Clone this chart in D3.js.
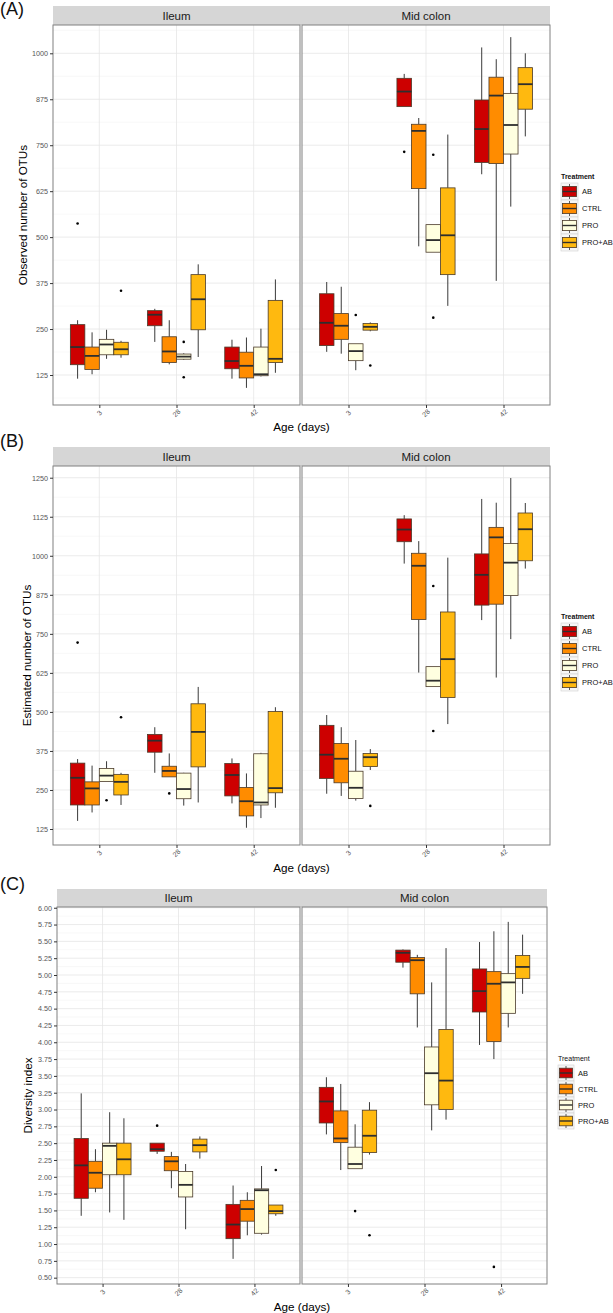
<!DOCTYPE html>
<html><head><meta charset="utf-8">
<script src="https://cdn.jsdelivr.net/npm/d3@7"></script>
<style>
body{margin:0;background:#fff}
svg{display:block}
text{font-family:"Liberation Sans",Arial,Helvetica,sans-serif}
</style>
</head><body>
<svg id="chart" width="613" height="1313"></svg>
<script>
const treatments = ["AB","CTRL","PRO","PRO+AB"];
const fills = ["#CD0000","#FF8C00","#FFFFE0","#FFB90F"];
const ages = ["3","28","42"];
const sites = ["Ileum","Mid colon"];
const obsTicks = [125,250,375,500,625,750,875,1000];
const estTicks = [125,250,375,500,625,750,875,1000,1125,1250];
const divTicks = [0.5,0.75,1.0,1.25,1.5,1.75,2.0,2.25,2.5,2.75,3.0,3.25,3.5,3.75,4.0,4.25,4.5,4.75,5.0,5.25,5.5,5.75,6.0];

// [age, treatment, lowerWhisker, q1, median, q3, upperWhisker, outliers]
const obsIleum = [
  ["3","AB",115,153,201,262,274,[537]],
  ["3","CTRL",127,140,177,201,241,[]],
  ["3","PRO",169,180,208,222,248,[]],
  ["3","PRO+AB",172,180,195,214,218,[354]],
  ["28","AB",215,259,289,300,305,[]],
  ["28","CTRL",154,159,189,229,274,[]],
  ["28","PRO",166,168,175,182,184,[215,119]],
  ["28","PRO+AB",174,248,331,398,426,[]],
  ["42","AB",115,142,163,201,221,[]],
  ["42","CTRL",90,117,150,187,227,[]],
  ["42","PRO",121,123,127,201,251,[]],
  ["42","PRO+AB",131,159,169,328,385,[]]
];
const obsColon = [
  ["3","AB",188,205,267,346,378,[]],
  ["3","CTRL",183,222,259,292,365,[]],
  ["3","PRO",138,164,190,210,210,[288]],
  ["3","PRO+AB",244,247,256,265,268,[151]],
  ["28","AB",855,855,896,932,944,[732]],
  ["28","CTRL",475,632,789,807,824,[]],
  ["28","PRO",459,459,492,534,534,[724,281]],
  ["28","PRO+AB",313,398,505,634,779,[]],
  ["42","AB",671,703,794,873,1016,[]],
  ["42","CTRL",381,700,885,935,984,[]],
  ["42","PRO",583,726,805,891,1044,[]],
  ["42","PRO+AB",774,848,916,961,1000,[]]
];
const estIleum = [
  ["3","AB",151,202,289,336,349,[722]],
  ["3","CTRL",178,202,255,276,328,[]],
  ["3","PRO",277,277,296,319,342,[217]],
  ["3","PRO+AB",202,234,276,300,305,[483]],
  ["28","AB",305,371,408,428,451,[]],
  ["28","CTRL",292,292,311,326,367,[239]],
  ["28","PRO",200,222,253,304,305,[]],
  ["28","PRO+AB",210,324,436,526,580,[]],
  ["42","AB",207,231,298,335,351,[]],
  ["42","CTRL",129,167,214,258,303,[]],
  ["42","PRO",160,202,210,366,369,[]],
  ["42","PRO+AB",193,241,256,501,515,[]]
];
const estColon = [
  ["3","AB",238,287,363,457,490,[]],
  ["3","CTRL",231,273,350,399,451,[]],
  ["3","PRO",216,223,257,310,410,[]],
  ["3","PRO+AB",314,325,355,367,381,[199]],
  ["28","AB",975,1045,1084,1118,1130,[]],
  ["28","CTRL",626,796,968,1008,1047,[]],
  ["28","PRO",581,581,600,645,645,[903,439]],
  ["28","PRO+AB",461,546,669,820,994,[]],
  ["42","AB",794,842,939,1006,1182,[]],
  ["42","CTRL",610,845,1059,1091,1170,[]],
  ["42","PRO",733,873,978,1039,1249,[]],
  ["42","PRO+AB",959,984,1085,1137,1169,[]]
];
const divIleum = [
  ["3","AB",1.42,1.68,2.17,2.57,3.24,[]],
  ["3","CTRL",1.77,1.83,2.06,2.23,2.41,[]],
  ["3","PRO",1.47,2.03,2.46,2.50,2.96,[]],
  ["3","PRO+AB",1.36,2.03,2.26,2.50,2.87,[]],
  ["28","AB",2.34,2.38,2.41,2.50,2.50,[2.76]],
  ["28","CTRL",1.83,2.09,2.23,2.30,2.37,[]],
  ["28","PRO",1.22,1.70,1.88,2.08,2.19,[]],
  ["28","PRO+AB",2.27,2.37,2.47,2.56,2.60,[]],
  ["42","AB",0.78,1.08,1.29,1.59,1.87,[]],
  ["42","CTRL",1.13,1.34,1.52,1.65,1.77,[]],
  ["42","PRO",1.14,1.16,1.80,1.82,2.16,[]],
  ["42","PRO+AB",1.42,1.45,1.49,1.58,1.58,[2.10]]
];
const divColon = [
  ["3","AB",2.63,2.80,3.12,3.33,3.48,[]],
  ["3","CTRL",2.10,2.51,2.57,2.98,3.38,[]],
  ["3","PRO",2.12,2.12,2.19,2.44,2.78,[1.49]],
  ["3","PRO+AB",2.33,2.36,2.61,2.99,3.11,[1.13]],
  ["28","AB",5.11,5.19,5.33,5.37,5.38,[]],
  ["28","CTRL",4.22,4.72,5.22,5.26,5.30,[]],
  ["28","PRO",2.69,3.07,3.54,3.93,4.89,[]],
  ["28","PRO+AB",2.85,3.00,3.43,4.19,5.40,[]],
  ["42","AB",3.96,4.45,4.76,5.09,5.49,[]],
  ["42","CTRL",3.75,4.01,4.87,5.05,5.65,[0.66]],
  ["42","PRO",4.22,4.43,4.89,5.02,5.79,[]],
  ["42","PRO+AB",4.72,4.95,5.12,5.29,5.60,[]]
];

// layout
const panels = [
  {tag:"(A)", tagY:15, strip:[6,25], plot:[25,405], dom:[43.4,1077], ticks:obsTicks, fmt:d3.format("d"),
   ytitle:"Observed number of OTUs", ytx:23, data:[obsIleum,obsColon], xs:[[53,300],[302,550]],
   tickLabY:413, xtitleY:431, legY:177, legX:561, key:17, legBold:true},
  {tag:"(B)", tagY:447, strip:[447,466], plot:[466,845], dom:[73.8,1287.5], ticks:estTicks, fmt:d3.format("d"),
   ytitle:"Estimated number of OTUs", ytx:27, data:[estIleum,estColon], xs:[[53,300],[302,550]],
   tickLabY:853, xtitleY:872, legY:617, legX:561, key:17, legBold:true},
  {tag:"(C)", tagY:890, strip:[889,907], plot:[907,1284], dom:[0.406,6.011], ticks:divTicks, fmt:d3.format(".2f"),
   ytitle:"Diversity index", ytx:28, data:[divIleum,divColon], xs:[[57,300],[302,547]],
   tickLabY:1292, xtitleY:1311, legY:1059, legX:558, key:16, legBold:false}
];

const svg = d3.select("#chart");
const colorScale = d3.scaleOrdinal().domain(treatments).range(fills);

panels.forEach(p => {
  const g = svg.append("g");
  const y = d3.scaleLinear().domain(p.dom).range([p.plot[1], p.plot[0]]);
  // minor ticks
  const minor = [];
  for (let i = 0; i < p.ticks.length - 1; i++) minor.push((p.ticks[i] + p.ticks[i+1]) / 2);
  const step = p.ticks[1] - p.ticks[0];
  minor.unshift(p.ticks[0] - step/2);
  minor.push(p.ticks[p.ticks.length-1] + step/2);
  const minorIn = minor.filter(v => v > p.dom[0] && v < p.dom[1]);

  // tag
  g.append("text").attr("x", 0).attr("y", p.tagY).attr("font-size", 18).attr("fill", "#111").text(p.tag);

  // strip background spanning both facets
  const sx0 = p.xs[0][0], sx1 = p.xs[1][1];
  p.xs.forEach((xr, fi) => {
    g.append("rect").attr("x", xr[0]).attr("y", p.strip[0]).attr("width", xr[1]-xr[0] + (fi===0 ? (p.xs[1][0]-xr[1]) : 0))
      .attr("height", p.strip[1]-p.strip[0]).attr("fill", "#d6d6d6");
  });

  p.xs.forEach((xr, fi) => {
    const x = d3.scalePoint().domain(ages).range(xr).padding(0.6);
    const stepX = x.step();
    const bw = stepX * 0.1875;
    const fg = g.append("g");
    // panel background
    fg.append("rect").attr("x", xr[0]).attr("y", p.plot[0]).attr("width", xr[1]-xr[0]).attr("height", p.plot[1]-p.plot[0]).attr("fill", "#fff");
    // grid
    fg.selectAll(".mn").data(minorIn).join("line")
      .attr("x1", xr[0]).attr("x2", xr[1]).attr("y1", d => y(d)).attr("y2", d => y(d))
      .attr("stroke", "#f4f4f4").attr("stroke-width", 0.6);
    fg.selectAll(".mj").data(p.ticks).join("line")
      .attr("x1", xr[0]).attr("x2", xr[1]).attr("y1", d => y(d)).attr("y2", d => y(d))
      .attr("stroke", "#e6e6e6").attr("stroke-width", 0.8);
    fg.selectAll(".vg").data(ages).join("line")
      .attr("x1", d => x(d)).attr("x2", d => x(d)).attr("y1", p.plot[0]).attr("y2", p.plot[1])
      .attr("stroke", "#e6e6e6").attr("stroke-width", 0.8);

    // strip text
    g.append("text").attr("x", (xr[0]+xr[1])/2).attr("y", (p.strip[0]+p.strip[1])/2)
      .attr("dy", "0.36em").attr("text-anchor", "middle").attr("font-size", 11.5).attr("fill", "#1a1a1a").text(sites[fi]);

    // boxes
    const rows = p.data[fi];
    const bx = d => x(d[0]) + (treatments.indexOf(d[1]) - 2) * bw;
    const bg = fg.selectAll(".box").data(rows).join("g");
    bg.append("line").attr("x1", d => bx(d) + bw/2).attr("x2", d => bx(d) + bw/2)
      .attr("y1", d => y(d[6])).attr("y2", d => y(d[5])).attr("stroke", "#3a3a3a").attr("stroke-width", 1);
    bg.append("line").attr("x1", d => bx(d) + bw/2).attr("x2", d => bx(d) + bw/2)
      .attr("y1", d => y(d[3])).attr("y2", d => y(d[2])).attr("stroke", "#3a3a3a").attr("stroke-width", 1);
    bg.append("rect").attr("x", d => bx(d)).attr("width", bw)
      .attr("y", d => y(d[5])).attr("height", d => Math.max(0.5, y(d[3]) - y(d[5])))
      .attr("fill", d => colorScale(d[1])).attr("stroke", "#4a3a2a").attr("stroke-width", 0.8);
    bg.append("line").attr("x1", d => bx(d)).attr("x2", d => bx(d) + bw)
      .attr("y1", d => y(d[4])).attr("y2", d => y(d[4])).attr("stroke", "#2e2e2e").attr("stroke-width", 1.8);
    bg.selectAll("circle").data(d => d[7].map(v => [bx(d) + bw/2, v])).join("circle")
      .attr("cx", d => d[0]).attr("cy", d => y(d[1])).attr("r", 1.3).attr("fill", "#000");

    // border
    fg.append("rect").attr("x", xr[0]).attr("y", p.plot[0]).attr("width", xr[1]-xr[0]).attr("height", p.plot[1]-p.plot[0])
      .attr("fill", "none").attr("stroke", "#808080").attr("stroke-width", 1);

    // x axis
    const xa = g.append("g").attr("transform", `translate(0,${p.plot[1]})`)
      .call(d3.axisBottom(x).tickSize(3).tickFormat(() => ""));
    xa.select(".domain").remove();
    xa.selectAll("line").attr("stroke", "#333").attr("stroke-width", 1);
    g.selectAll(null).data(ages).join("text")
      .attr("transform", d => `translate(${x(d)},${p.tickLabY}) rotate(-45)`)
      .attr("text-anchor", "middle").attr("dy", "0.35em").attr("font-size", 7).attr("fill", "#555").text(d => d);
  });

  // y axis
  const ya = g.append("g").attr("transform", `translate(${p.xs[0][0]},0)`)
    .call(d3.axisLeft(y).tickValues(p.ticks).tickSize(3).tickPadding(2).tickFormat(p.fmt));
  ya.select(".domain").remove();
  ya.selectAll("line").attr("stroke", "#333").attr("stroke-width", 1);
  ya.selectAll("text").attr("font-size", 7.2).attr("fill", "#555").attr("font-family", "'Liberation Sans',Arial,sans-serif");

  // y title
  g.append("text").attr("transform", `translate(${p.ytx},${(p.plot[0]+p.plot[1])/2}) rotate(-90)`)
    .attr("text-anchor", "middle").attr("dy", "0.36em").attr("font-size", 11.7).attr("fill", "#000").text(p.ytitle);
  // x title
  g.append("text").attr("x", (p.xs[0][0] + p.xs[1][1]) / 2).attr("y", p.xtitleY)
    .attr("text-anchor", "middle").attr("font-size", 11.7).attr("fill", "#000").text("Age (days)");

  // legend
  const lg = g.append("g").attr("transform", `translate(${p.legX},${p.legY})`);
  lg.append("text").attr("x", 0).attr("y", 0).attr("dy", "0.35em").attr("font-size", 7)
    .attr("font-weight", p.legBold ? "bold" : "normal").attr("fill", "#111").text("Treatment");
  const k = p.key;
  const items = lg.selectAll(".it").data(treatments).join("g")
    .attr("transform", (d, i) => `translate(0,${6 + i * k})`);
  items.append("rect").attr("width", k).attr("height", k).attr("fill", "#f7f7f7").attr("stroke", "#d0d0d0").attr("stroke-width", 0.6);
  items.append("line").attr("x1", k/2).attr("x2", k/2).attr("y1", 1).attr("y2", k-1).attr("stroke", "#333").attr("stroke-width", 0.8);
  items.append("rect").attr("x", 1.5).attr("y", k*0.2).attr("width", k-3).attr("height", k*0.6)
    .attr("fill", d => colorScale(d)).attr("stroke", "#4a3a2a").attr("stroke-width", 0.8);
  items.append("line").attr("x1", 1.5).attr("x2", k-1.5).attr("y1", k/2).attr("y2", k/2).attr("stroke", "#2e2e2e").attr("stroke-width", 1.4);
  items.append("text").attr("x", k + 4).attr("y", k/2).attr("dy", "0.35em").attr("font-size", 7.5).attr("fill", "#111").text(d => d);
});
</script>
</body></html>
